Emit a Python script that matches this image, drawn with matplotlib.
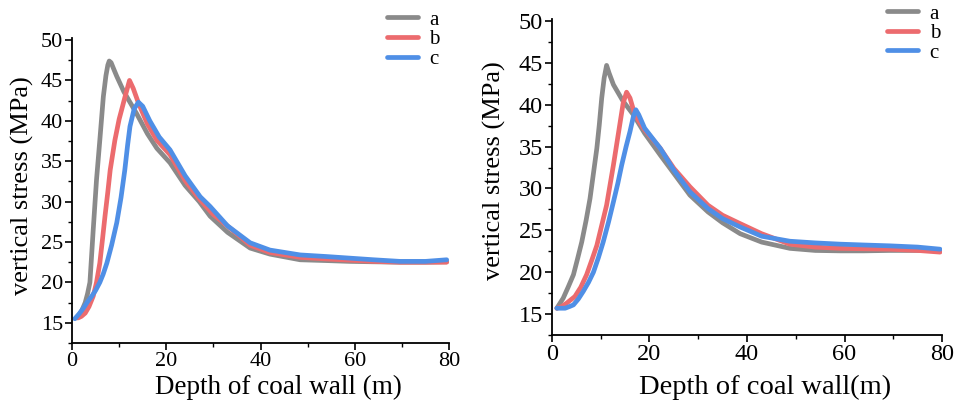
import matplotlib
matplotlib.use("Agg")
import matplotlib.pyplot as plt
from matplotlib.ticker import MultipleLocator

plt.rcParams['font.family'] = ['Liberation Serif', 'DejaVu Serif']

# ---- left panel data ----
left_a_x = [1.0, 2.0, 2.8, 3.3, 3.8, 4.5, 5.2, 5.9, 6.65, 7.2, 7.6, 7.9, 8.3, 9.0, 9.5, 11.0, 13.7, 16.0, 18.0, 20.8, 24.0, 27.0, 29.3, 33.0, 37.8, 42.0, 48.4, 54.0, 59.0, 64.0, 69.6, 75.0, 79.5]
left_a_y = [15.6, 16.4, 17.5, 18.6, 20.0, 26.5, 32.7, 37.6, 43.0, 45.6, 46.9, 47.4, 47.2, 46.2, 45.5, 43.6, 40.9, 38.4, 36.6, 34.8, 32.0, 30.0, 28.2, 26.2, 24.25, 23.5, 22.8, 22.7, 22.6, 22.55, 22.5, 22.5, 22.55]

left_b_x = [1.3, 2.0, 2.8, 3.6, 4.5, 5.2, 5.9, 6.5, 7.0, 7.6, 8.1, 9.1, 10.0, 10.5, 11.4, 12.2, 13.0, 14.1, 16.0, 18.0, 20.8, 24.0, 27.2, 30.0, 34.0, 37.8, 42.0, 48.4, 54.0, 59.0, 64.0, 69.6, 75.0, 79.5]
left_b_y = [15.6, 15.8, 16.2, 17.0, 18.3, 20.0, 22.4, 25.5, 28.2, 31.2, 33.9, 37.6, 40.2, 41.3, 43.3, 45.0, 44.0, 42.2, 39.6, 37.6, 35.8, 32.6, 30.2, 28.4, 26.5, 24.6, 23.7, 23.1, 22.9, 22.75, 22.6, 22.5, 22.5, 22.5]

left_c_x = [0.6, 1.5, 2.4, 3.3, 4.2, 5.0, 5.9, 6.6, 7.4, 8.4, 9.5, 10.4, 11.2, 11.8, 12.3, 13.2, 14.1, 15.0, 16.5, 18.5, 20.8, 24.0, 27.2, 29.3, 33.0, 37.8, 42.0, 48.4, 54.0, 59.0, 64.0, 69.6, 75.0, 79.5]
left_c_y = [15.5, 16.1, 16.8, 17.6, 18.3, 19.0, 20.0, 21.0, 22.4, 24.6, 27.4, 30.5, 33.9, 37.0, 39.3, 41.5, 42.3, 41.8, 40.0, 38.0, 36.4, 33.2, 30.6, 29.4, 27.0, 24.9, 24.0, 23.4, 23.2, 23.0, 22.8, 22.6, 22.6, 22.8]

# ---- right panel data ----
right_a_x = [1.0, 2.3, 3.3, 4.4, 5.2, 6.1, 7.0, 7.8, 8.5, 9.2, 9.7, 10.2, 10.7, 11.2, 11.7, 12.6, 14.5, 16.7, 19.0, 22.2, 25.0, 28.3, 32.0, 35.0, 38.6, 43.0, 48.8, 54.0, 59.1, 64.0, 69.3, 75.0, 79.6]
right_a_y = [15.7, 16.9, 18.2, 19.7, 21.5, 23.6, 26.2, 28.8, 31.8, 34.8, 37.6, 40.8, 43.2, 44.7, 43.8, 42.4, 40.5, 38.8, 36.6, 34.0, 31.8, 29.2, 27.2, 25.9, 24.6, 23.6, 22.85, 22.6, 22.55, 22.55, 22.6, 22.6, 22.6]

right_b_x = [1.0, 2.0, 3.0, 4.7, 5.9, 7.1, 8.2, 9.2, 10.2, 11.2, 12.6, 13.9, 14.6, 15.3, 16.0, 17.0, 19.0, 22.2, 25.0, 28.3, 32.0, 35.0, 38.6, 43.0, 48.8, 54.0, 59.1, 64.0, 69.3, 75.0, 79.6]
right_b_y = [15.7, 15.9, 16.3, 17.1, 18.2, 19.7, 21.5, 23.2, 25.6, 28.0, 32.8, 37.6, 40.2, 41.5, 40.8, 38.8, 37.0, 34.8, 32.4, 30.2, 28.0, 26.8, 25.8, 24.6, 23.35, 23.0, 22.85, 22.8, 22.75, 22.6, 22.4]

right_c_x = [1.0, 2.7, 3.6, 4.4, 5.4, 6.4, 7.5, 8.5, 9.5, 10.5, 11.6, 12.6, 13.5, 14.3, 15.2, 16.0, 16.7, 17.2, 17.8, 19.0, 22.2, 25.0, 28.3, 32.0, 35.0, 38.6, 43.0, 48.8, 54.0, 59.1, 64.0, 69.3, 75.0, 79.6]
right_c_y = [15.7, 15.7, 15.9, 16.1, 16.8, 17.7, 18.8, 20.0, 21.7, 23.6, 26.0, 28.4, 30.6, 32.8, 35.0, 36.8, 38.6, 39.4, 38.8, 37.2, 34.8, 32.2, 29.6, 27.6, 26.4, 25.4, 24.3, 23.7, 23.5, 23.35, 23.25, 23.15, 23.0, 22.75]

labels = ['a', 'b', 'c']
colors = ['#8a8a8a', '#ec6b6e', '#4f8fe6']


def draw_panel(ax, series, xlabel, tick_size, xlabel_size, xpad, ypad, label_shift, legend_anchor):
    for (xs, ys), lab, col in zip(series, labels, colors):
        ax.plot(xs, ys, color=col, lw=3.4, label=lab, solid_capstyle='round')
    ax.set_xlim(0, 80)
    ax.set_ylim(12.5, 50.2)
    ax.spines['top'].set_visible(False)
    ax.spines['right'].set_visible(False)
    ax.xaxis.set_major_locator(MultipleLocator(20))
    ax.xaxis.set_minor_locator(MultipleLocator(10))
    ax.yaxis.set_major_locator(MultipleLocator(5))
    ax.yaxis.set_minor_locator(MultipleLocator(2.5))
    ax.tick_params(which='major', direction='out', length=5, width=1.2, labelsize=tick_size, pad=1.5)
    ax.tick_params(which='minor', direction='out', length=3, width=1.0)
    for s in ['left', 'bottom']:
        ax.spines[s].set_linewidth(1.3)
    ax.set_xlabel(xlabel, fontsize=xlabel_size, labelpad=xpad)
    ax.set_ylabel('vertical stress (MPa)', fontsize=19, labelpad=ypad)
    ax.xaxis.label.set_x(label_shift[0])
    ax.yaxis.label.set_y(label_shift[1])
    ax.legend(loc='upper left', bbox_to_anchor=legend_anchor, bbox_transform=ax.figure.transFigure,
              frameon=False, fontsize=15, handlelength=1.5, handletextpad=0.55,
              labelspacing=0.0, borderpad=0, borderaxespad=0)


fig = plt.figure(figsize=(9.55, 4.03), dpi=100)
ax1 = fig.add_axes([0.0754, 0.1489, 0.3948, 0.7558])
ax2 = fig.add_axes([0.578, 0.1687, 0.4084, 0.7833])

draw_panel(ax1, [(left_a_x, left_a_y), (left_b_x, left_b_y), (left_c_x, left_c_y)],
           'Depth of coal wall (m)', 16, 19.5, 3, 5, (0.548, 0.516), (0.405, 0.975))
draw_panel(ax2, [(right_a_x, right_a_y), (right_b_x, right_b_y), (right_c_x, right_c_y)],
           'Depth of coal wall(m)', 17.5, 20.5, 7, 9, (0.546, 0.522), (0.9288, 0.99))

fig.savefig('out.png', dpi=100)
